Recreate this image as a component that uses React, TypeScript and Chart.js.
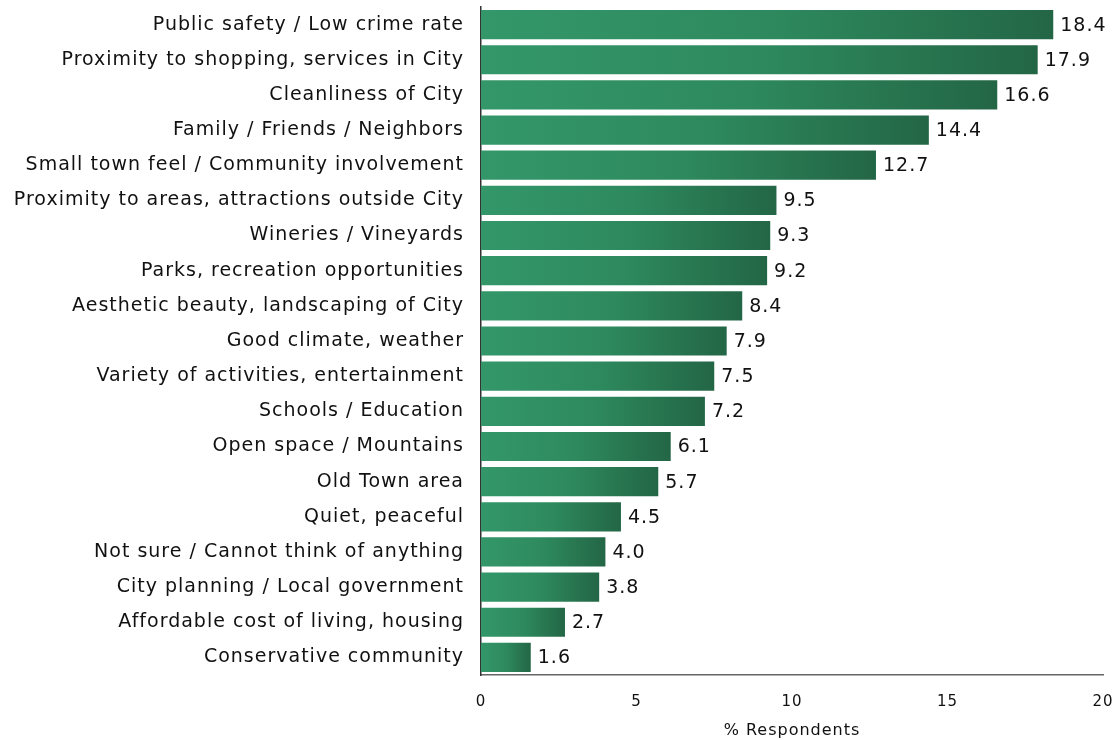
import React, { useEffect, useRef } from "react";
import { Chart, registerables } from "chart.js";

Chart.register(...registerables);

const categories = [
  "Public safety / Low crime rate",
  "Proximity to shopping, services in City",
  "Cleanliness of City",
  "Family / Friends / Neighbors",
  "Small town feel / Community involvement",
  "Proximity to areas, attractions outside City",
  "Wineries / Vineyards",
  "Parks, recreation opportunities",
  "Aesthetic beauty, landscaping of City",
  "Good climate, weather",
  "Variety of activities, entertainment",
  "Schools / Education",
  "Open space / Mountains",
  "Old Town area",
  "Quiet, peaceful",
  "Not sure / Cannot think of anything",
  "City planning / Local government",
  "Affordable cost of living, housing",
  "Conservative community",
];

const values = [18.4, 17.9, 16.6, 14.4, 12.7, 9.5, 9.3, 9.2, 8.4, 7.9, 7.5, 7.2, 6.1, 5.7, 4.5, 4.0, 3.8, 2.7, 1.6];

const xTicks = [0, 5, 10, 15, 20];
const axisTitle = "% Respondents";

const FONT = "'DejaVu Sans', Verdana, sans-serif";

const spacing = {
  id: "spacing",
  beforeDraw(chart: any) {
    chart.ctx.letterSpacing = "1px";
  },
};

const valueLabels = {
  id: "valueLabels",
  afterDatasetsDraw(chart: any) {
    const { ctx } = chart;
    const meta = chart.getDatasetMeta(0);
    ctx.save();
    ctx.letterSpacing = "1px";
    ctx.font = `19px ${FONT}`;
    ctx.fillStyle = "#111";
    ctx.textAlign = "left";
    ctx.textBaseline = "middle";
    meta.data.forEach((bar: any, i: number) => {
      ctx.fillText(values[i].toFixed(1), bar.x + 7, bar.y + 1);
    });
    ctx.restore();
  },
};

export default function App() {
  const ref = useRef<HTMLCanvasElement | null>(null);
  useEffect(() => {
    document.body.style.margin = "0";
    const canvas = ref.current!;
    const chart = new Chart(canvas, {
      type: "bar",
      data: {
        labels: categories,
        datasets: [
          {
            data: values,
            borderWidth: 0,
            barPercentage: 0.83,
            categoryPercentage: 1,
            backgroundColor: (c: any) => {
              const ch = c.chart;
              const xs = ch.scales?.x;
              if (!xs || !ch.chartArea || c.dataIndex === undefined) return "#2c8a5d";
              const x0 = xs.getPixelForValue(0);
              const x1 = xs.getPixelForValue(values[c.dataIndex]);
              if (!isFinite(x0) || !isFinite(x1) || x1 <= x0) return "#2c8a5d";
              const g = ch.ctx.createLinearGradient(x0, 0, x1, 0);
              g.addColorStop(0, "#33976a");
              g.addColorStop(0.5, "#2e8a5e");
              g.addColorStop(1, "#236646");
              return g;
            },
          },
        ],
      },
      options: {
        indexAxis: "y",
        animation: false,
        responsive: false,
        maintainAspectRatio: false,
        layout: { padding: { top: 7, right: 12, left: 0, bottom: 0 } },
        plugins: { legend: { display: false }, tooltip: { enabled: false } },
        scales: {
          x: {
            min: 0,
            max: 20,
            afterBuildTicks: (s: any) => {
              s.ticks = xTicks.map((v) => ({ value: v }));
            },
            grid: { display: false, drawTicks: false },
            border: { display: true, color: "#666", width: 1.5 },
            ticks: {
              padding: 18,
              color: "#111",
              font: { family: FONT, size: 15 },
            },
            title: {
              display: true,
              text: axisTitle,
              color: "#111",
              font: { family: FONT, size: 16 },
              padding: { top: 8, bottom: 0 },
            },
            afterFit: (s: any) => {
              s.height = 65;
              s.paddingLeft = 0;
              s.paddingRight = 0;
            },
          },
          y: {
            grid: { display: false, drawTicks: false },
            border: { display: true, color: "#333", width: 1.5 },
            ticks: {
              padding: 17,
              color: "#111",
              font: { family: FONT, size: 19 },
              autoSkip: false,
            },
            afterFit: (s: any) => {
              s.width = 481;
              s.paddingTop = 0;
              s.paddingBottom = 0;
            },
          },
        },
      },
      plugins: [spacing, valueLabels],
    });
    return () => chart.destroy();
  }, []);
  return (
    <div style={{ position: "absolute", left: 0, top: 0, width: 1115, height: 740 }}>
      <canvas ref={ref} width={1115} height={740} style={{ width: 1115, height: 740 }} />
    </div>
  );
}
